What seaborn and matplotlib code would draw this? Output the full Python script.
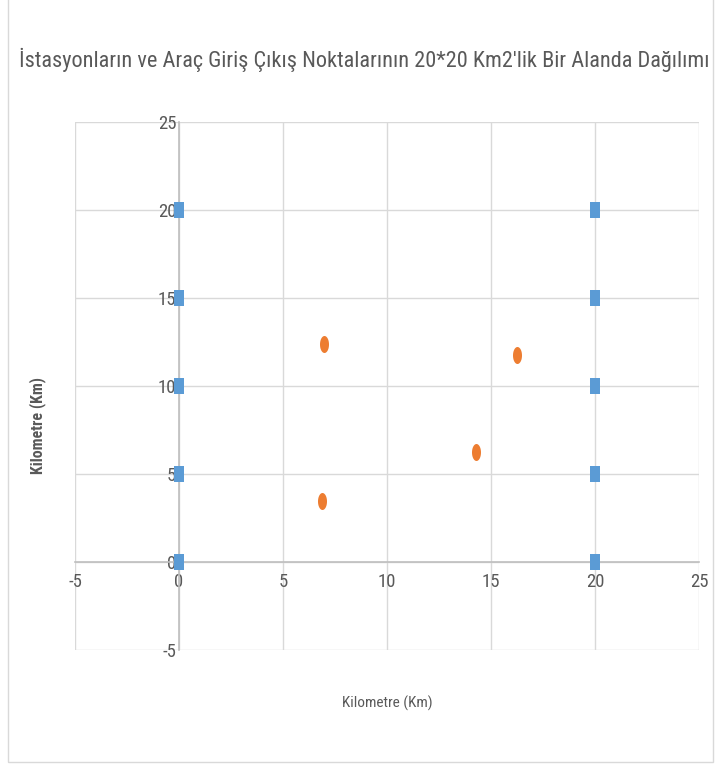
import numpy as np
import pandas as pd
import matplotlib
matplotlib.use("Agg")
import matplotlib.pyplot as plt
from matplotlib.patches import Rectangle
import seaborn as sns

# Entry / exit points on the edges of the area (km)
gate_x = [0, 0, 0, 0, 0, 20, 20, 20, 20, 20]
gate_y = [0, 5, 10, 15, 20, 0, 5, 10, 15, 20]

# Station locations (km)
station_x = [6.97, 16.25, 14.28, 6.88]
station_y = [12.4, 11.78, 6.25, 3.46]

title = "İstasyonların ve Araç Giriş Çıkış Noktalarının 20*20 Km2'lik Bir Alanda Dağılımı"
x_label = "Kilometre (Km)"
y_label = "Kilometre (Km)"
ticks = [-5, 0, 5, 10, 15, 20, 25]

sns.set_theme(style="white")
plt.rcParams["font.family"] = ["Roboto Condensed", "Open Sans Condensed", "DejaVu Sans"]
plt.rcParams["font.stretch"] = "condensed"
plt.rcParams["axes.unicode_minus"] = False

TEXT = "#595959"
GRID = "#D9D9D9"
AXIS = "#BFBFBF"
BLUE = "#5B9BD5"
ORANGE = "#ED7D31"

gates = pd.DataFrame({"x": gate_x, "y": gate_y})
stations = pd.DataFrame({"x": station_x, "y": station_y})

# tall, narrow marker shapes
rect_marker = [(-0.3, -0.5), (0.3, -0.5), (0.3, 0.5), (-0.3, 0.5), (-0.3, -0.5)]
t = np.linspace(0, 2 * np.pi, 40)
oval_marker = list(zip(0.265 * np.cos(t), 0.5 * np.sin(t)))

fig = plt.figure(figsize=(7.15, 7.65), dpi=100)
fig.patches.append(Rectangle((8 / 715, 3 / 765), 705 / 715, 0.999, transform=fig.transFigure,
                             fill=False, edgecolor="#D9D9D9", linewidth=1.0))
ax = fig.add_axes([75 / 715, 1 - 650 / 765, 624 / 715, 528 / 765])

sns.scatterplot(data=gates, x="x", y="y", marker=rect_marker, s=118, color=BLUE,
                edgecolor=BLUE, linewidth=0, ax=ax, zorder=4, clip_on=False)
sns.scatterplot(data=stations, x="x", y="y", marker=oval_marker, s=150, color=ORANGE,
                edgecolor=ORANGE, linewidth=0, ax=ax, zorder=4, clip_on=False)

ax.set_xlim(-5, 25)
ax.set_ylim(-5, 25)
ax.set_xticks(ticks)
ax.set_yticks(ticks)
ax.grid(True, color=GRID, linewidth=1.0)
ax.set_axisbelow(True)

for side in ("top", "right"):
    ax.spines[side].set_visible(False)
ax.spines["left"].set_position(("data", 0))
ax.spines["bottom"].set_position(("data", 0))
for side in ("left", "bottom"):
    ax.spines[side].set_color(AXIS)
    ax.spines[side].set_linewidth(1.2)
    ax.spines[side].set_zorder(3)

ax.tick_params(axis="both", length=0, labelsize=13.5, colors=TEXT)
ax.tick_params(axis="x", pad=8)
ax.tick_params(axis="y", pad=2)
ax.set_xlabel("")
ax.set_ylabel("")

fig.text(387 / 715, 1 - 703 / 765, x_label, ha="center", va="center", fontsize=11, color=TEXT)
fig.text(38 / 715, 1 - 426 / 765, y_label, ha="center", va="center", rotation=90,
         fontsize=11.5, color=TEXT, fontweight="bold")
fig.text(364 / 715, 1 - 60 / 765, title, ha="center", va="center", fontsize=16, color=TEXT)

fig.savefig("out.png", dpi=100)
